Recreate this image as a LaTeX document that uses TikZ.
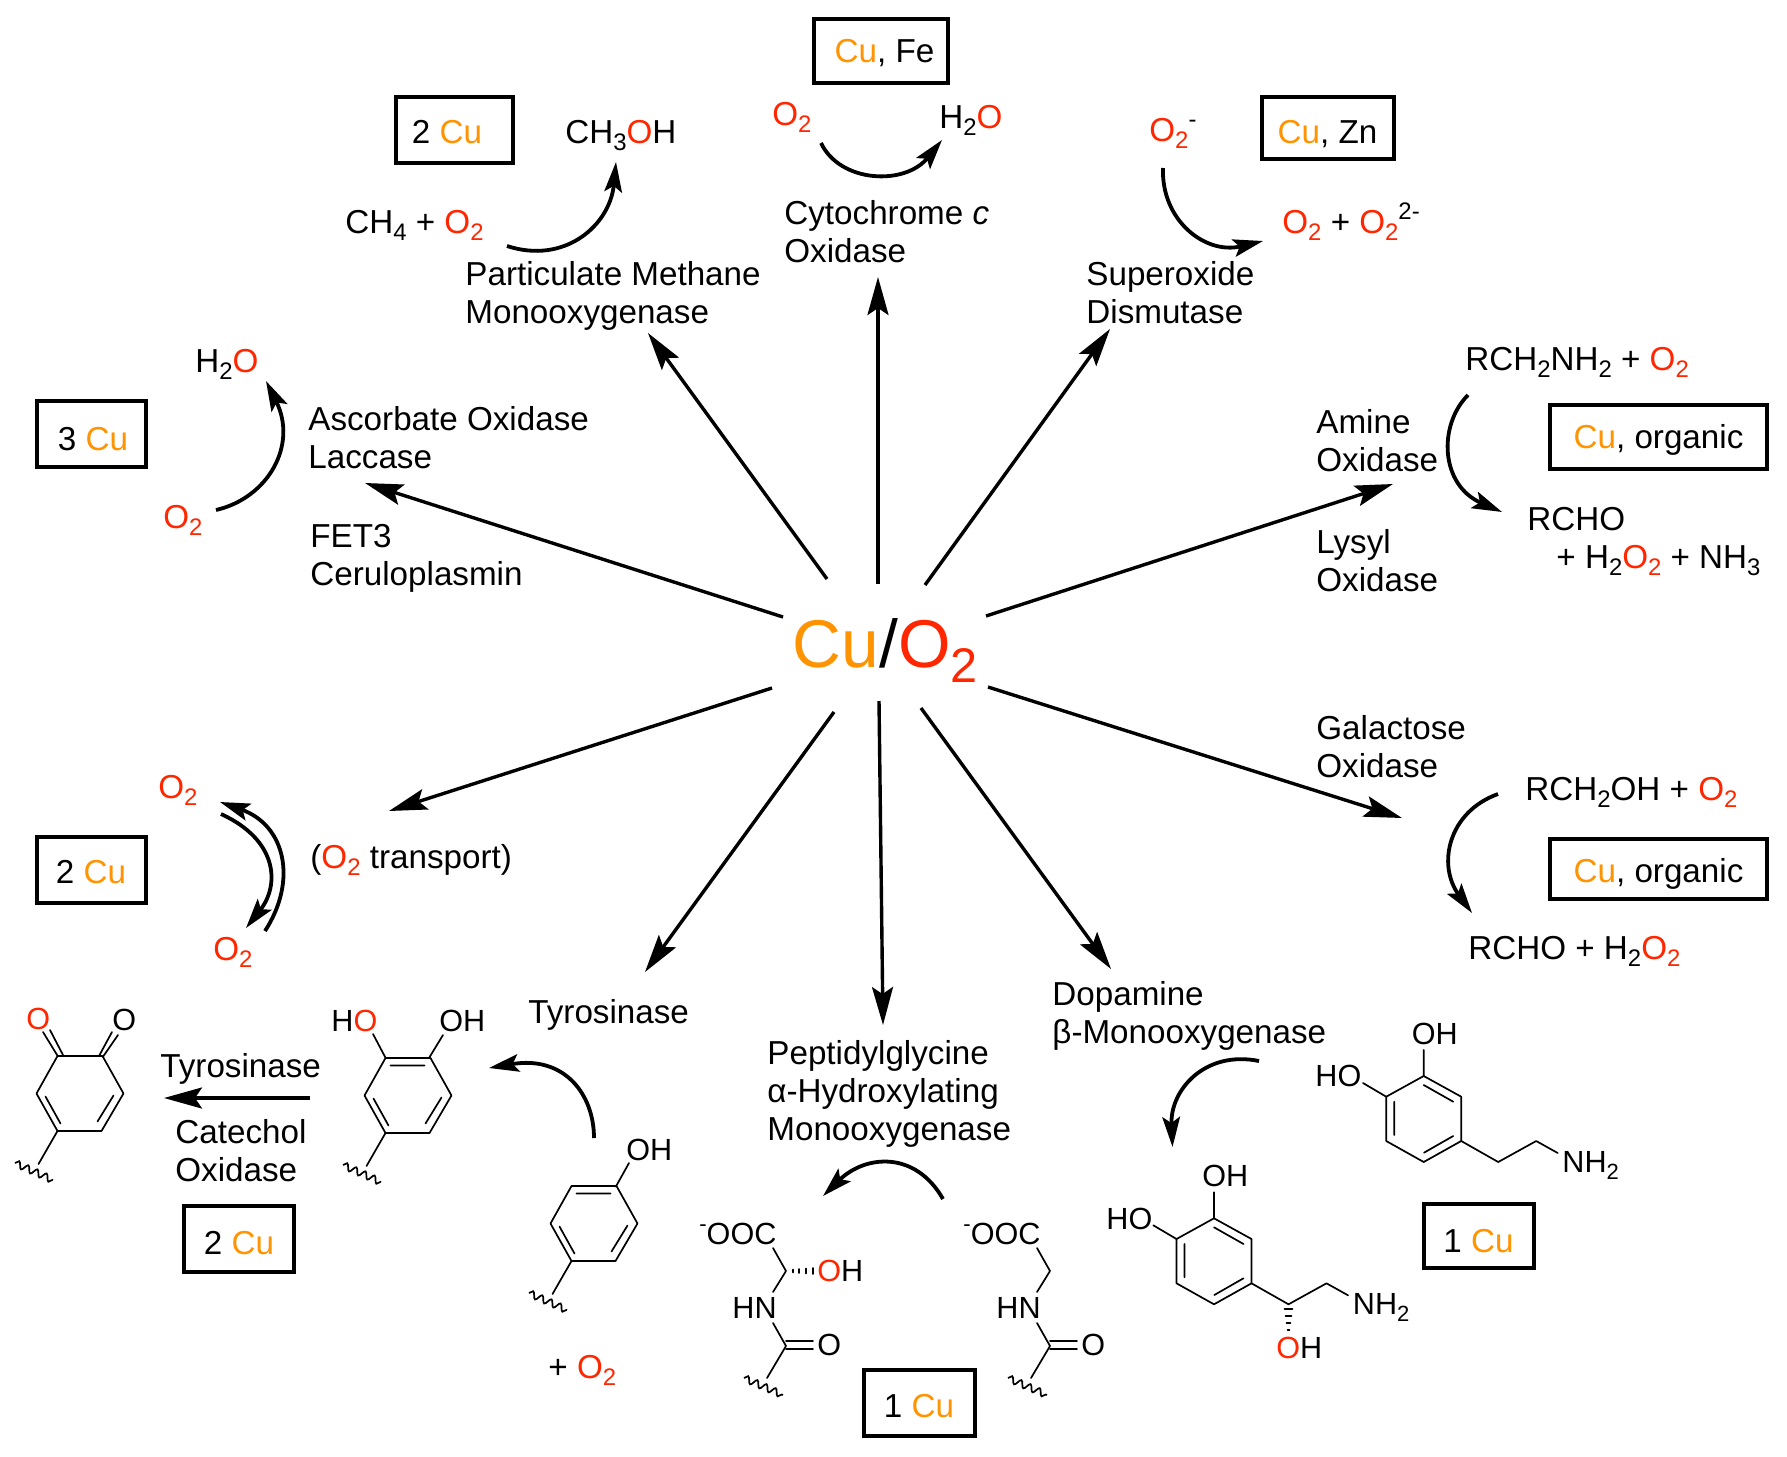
\documentclass[tikz,border=0pt]{standalone}
\usepackage{fontspec}
\setmainfont{Liberation Sans}
\usetikzlibrary{arrows.meta,decorations.pathmorphing}
\definecolor{cuor}{HTML}{FF9300}
\definecolor{oxr}{HTML}{FF2600}
\newcommand{\sbs}[1]{\raisebox{-.23em}{\scalebox{.72}{#1}}}
\newcommand{\sps}[1]{\raisebox{.42em}{\scalebox{.72}{#1}}}
\newcommand{\Cuu}{\textcolor{cuor}{Cu}}
\newcommand{\Oo}{\textcolor{oxr}{O}}
\newcommand{\Ot}{\textcolor{oxr}{O\sbs{2}}}
\tikzset{
  lbl/.style={anchor=base west,inner sep=0pt,align=left,font=\fontsize{16.6}{19}\selectfont},
  chem/.style={anchor=base west,inner sep=0pt,font=\fontsize{15.3}{18}\selectfont},
  cubox/.style={draw=black,line width=2pt,inner sep=0pt,text height=11.8pt,text depth=0pt,font=\fontsize{16.6}{19}\selectfont},
  radial/.style={line width=1.7pt,-{Stealth[length=19pt,width=10.5pt,inset=3.5pt]}},
  curved/.style={line width=1.9pt,-{Stealth[length=15pt,width=8.8pt,inset=3pt]}},
  bond/.style={line width=.85pt,line cap=round,line join=round},
  wavy/.style={line width=.85pt,decorate,decoration={snake,amplitude=1.7pt,segment length=5pt}},
  quinring/.pic={
    \draw[bond] (-22,-37.5)--(23,-37.5)--(44,0)--(22,37.5)--(-22,37.5)--(-43,0)--cycle;
    \draw[bond] (-34,3)--(-19,30) (34,2)--(18,28);
    \draw[bond] (-22,37.5)--(-41,70.5);
    \draw[wavy] (-64.5,69.5)--(-26.5,86.5);
  },
  phring/.pic={
    \draw[bond] (-22,-37.5)--(23,-37.5)--(44,0)--(22,37.5)--(-22,37.5)--(-43,0)--cycle;
    \draw[bond] (-34,3)--(-19,30) (34,2)--(18,28) (-17,-30)--(17,-30);
    \draw[bond] (-22,37.5)--(-41,70.5);
    \draw[wavy] (-64.5,69.5)--(-26.5,86.5);
  },
  catechol/.pic={
    \draw[bond] (0,-43)--(37.5,-22.3)--(37.5,22)--(0,43)--(-37.5,22)--(-37.5,-22.3)--cycle;
    \draw[bond] (0,-34)--(29.5,-17.3) (-29.5,-17.3)--(-29.5,16) (.3,33.7)--(29.5,17);
    \draw[bond] (37.5,22)--(74.5,43)--(112.5,22)--(134,34);
    \draw[bond] (0,-43)--(0,-69) (-37.5,-22.3)--(-60.7,-36);
  },
  peptide/.pic={
    \draw[bond] (-13,-23)--(0,0)--(-13,21);
    \draw[bond] (-13,52)--(0,75)--(-19,107);
    \draw[bond] (0,69.7)--(27,69.7) (0,78)--(27,78);
    \draw[wavy] (-42,107)--(-3,124);
  },
}
\begin{document}
\begin{tikzpicture}[x=.5pt,y=-.5pt]
\useasboundingbox (0,0) rectangle (1787,1456);

% centre
\node[anchor=base west,inner sep=0pt,font=\fontsize{33.8}{38}\selectfont] (centre) at (792.5,667) {\Cuu/\Ot};

% radial arrows
\coordinate (s1) at (783,617);  \coordinate (e1) at (365,483);
\coordinate (s2) at (827,579);  \coordinate (e2) at (648,333);
\coordinate (s3) at (878,584);  \coordinate (e3) at (878,277);
\coordinate (s4) at (925,585);  \coordinate (e4) at (1110,329);
\coordinate (s5) at (986,616);  \coordinate (e5) at (1393,484);
\coordinate (s6) at (988,687);  \coordinate (e6) at (1402,818);
\coordinate (s7) at (921,708);  \coordinate (e7) at (1111,969);
\coordinate (s8) at (879,701);  \coordinate (e8) at (883,1025);
\coordinate (s9) at (834,712);  \coordinate (e9) at (645,972);
\coordinate (s10) at (772,688); \coordinate (e10) at (389,811);
\foreach \i in {1,...,10} {\draw[radial] (s\i)--(e\i);}

% boxes
\node[cubox,minimum width=67pt,minimum height=32pt] (bfe) at (880.5,51) {\hspace{4pt}\Cuu, Fe};
\node[cubox,minimum width=58.5pt,minimum height=33pt,text height=13pt] (bpm) at (454,130) {\hspace{-7pt}2 \Cuu};
\node[cubox,minimum width=66pt,minimum height=31pt,text height=15pt] (bzn) at (1327.5,128) {\Cuu, Zn};
\node[cubox,minimum width=108.5pt,minimum height=32pt] (bam) at (1658.5,436.5) {\Cuu, organic};
\node[cubox,minimum width=108.5pt,minimum height=30pt,text height=14pt] (bga) at (1658.5,868.5) {\Cuu, organic};
\node[cubox,minimum width=54.5pt,minimum height=33pt,text height=16.3pt] (bas) at (91,434) {\hspace{2pt}3 \Cuu};
\node[cubox,minimum width=54.5pt,minimum height=33pt,text height=14pt] (btr) at (91,869.5) {2 \Cuu};
\node[cubox,minimum width=55pt,minimum height=33pt,text height=15pt] (bty) at (239,1239) {2 \Cuu};
\node[cubox,minimum width=55.5pt,minimum height=33pt,text height=14pt] (bph) at (919,1403) {1 \Cuu};
\node[cubox,minimum width=55pt,minimum height=32pt,text height=16pt] (bdo) at (1478.5,1236) {1 \Cuu};

% top centre
\node[lbl] (ox1) at (772,125) {\Ot};
\node[lbl] (wa1) at (939,128) {H\sbs{2}\Oo};
\coordinate (a1s) at (821,143); \coordinate (a1e) at (942,140);
\draw[curved] (a1s) .. controls (840,183) and (905,186) .. (a1e);
\node[lbl] (cyt) at (784,262) {Cytochrome \textit{c}\\Oxidase};

% top left
\node[lbl] (meoh) at (565,143) {CH\sbs{3}\Oo H};
\node[lbl] (meth) at (345,233) {CH\sbs{4} + \Ot};
\coordinate (a2s) at (507,246); \coordinate (a2e) at (616,162);
\draw[curved] (a2s) .. controls (565,265) and (610,225) .. (a2e);
\node[lbl] (pmo) at (465,323) {Particulate Methane\\Monooxygenase};

% top right
\node[lbl] (sup) at (1149,141) {\Ot\sps{-}};
\node[lbl] (prs) at (1282,233) {\Ot{} + \Ot\sps{2-}};
\coordinate (a3s) at (1163,168); \coordinate (a3e) at (1263,241);
\draw[curved] (a3s) .. controls (1161,220) and (1205,255) .. (a3e);
\node[lbl] (sod) at (1086,323) {Superoxide\\Dismutase};

% right upper
\node[lbl] (rna) at (1465,370) {RCH\sbs{2}NH\sbs{2} + \Ot};
\node[lbl] (amo) at (1316,471) {Amine\\Oxidase};
\node[lbl] (lyo) at (1316,591) {Lysyl\\Oxidase};
\node[lbl] (rch1) at (1527,530) {RCHO};
\node[lbl] (rch2) at (1556,568) {+ H\sbs{2}\Ot{} + NH\sbs{3}};
\coordinate (a4s) at (1468,395); \coordinate (a4e) at (1502,512);
\draw[curved] (a4s) .. controls (1438,425) and (1440,485) .. (a4e);

% right lower
\node[lbl] (gao) at (1316,777) {Galactose\\Oxidase};
\node[lbl] (rcoh) at (1525,800) {RCH\sbs{2}OH + \Ot};
\node[lbl] (rcho) at (1468,959) {RCHO + H\sbs{2}\Ot};
\coordinate (a5s) at (1498,794); \coordinate (a5e) at (1472,913);
\draw[curved] (a5s) .. controls (1448,812) and (1437,865) .. (a5e);

% left upper
\node[lbl] (aso) at (308,468) {Ascorbate Oxidase\\Laccase};
\node[lbl] (fet) at (310,585) {FET3\\Ceruloplasmin};
\node[lbl] (wa2) at (195,372) {H\sbs{2}\Oo};
\node[lbl] (ox2) at (163,528) {\Ot};
\coordinate (a6s) at (216,510); \coordinate (a6e) at (266,381);
\draw[curved] (a6s) .. controls (268,498) and (298,445) .. (a6e);

% transport
\node[lbl] (ox3) at (158,798) {\Ot};
\node[lbl] (ox4) at (213,960) {\Ot};
\node[lbl] (tra) at (310,868) {(\Ot{} transport)};
\coordinate (a7s) at (265,931); \coordinate (a7e) at (220,802);
\coordinate (a8s) at (221,814); \coordinate (a8e) at (246,928);
\draw[curved] (a7s) .. controls (298,880) and (285,825) .. (a7e);
\draw[curved] (a8s) .. controls (278,840) and (280,885) .. (a8e);

% quinone, catechol, phenol
\pic at (79.5,1093.5) {quinring};
\draw[bond] (57.7,1056)--(43,1032) (63,1055)--(50,1030);
\draw[bond] (103,1056.7)--(118,1035) (99,1056)--(112,1032);
\node[chem] (qo1) at (26,1029) {\Oo};
\node[chem] (qo2) at (112,1030) {O};
\pic at (407.5,1095.5) {phring};
\draw[bond] (373,1034)--(385.5,1057.7) (443,1035)--(429,1058);
\node[chem] (ho1) at (331,1031) {H\Oo};
\node[chem] (oh1) at (439,1031) {OH};
\pic at (593.5,1223.5) {phring};
\draw[bond] (629,1163)--(615.8,1186.7);
\node[chem] (oh2) at (626,1160) {OH};
\node[lbl] (plo) at (548,1378) {+ \Ot};

\node[lbl] (tyr1) at (528,1023) {Tyrosinase};
\node[lbl] (tyr2) at (160,1077) {Tyrosinase};
\node[lbl] (cat) at (175,1181) {Catechol\\Oxidase};
\coordinate (a9s) at (310,1098); \coordinate (a9e) at (164,1098);
\draw[radial] (a9s)--(a9e);
\coordinate (a10s) at (594,1138); \coordinate (a10e) at (489,1068);
\draw[curved] (a10s) .. controls (594,1095) and (565,1055) .. (a10e);

% PHM
\node[lbl] (phm) at (767,1140) {Peptidylglycine\\α-Hydroxylating\\Monooxygenase};
\coordinate (a11s) at (943,1199); \coordinate (a11e) at (823,1196);
\draw[curved] (a11s) .. controls (915,1150) and (865,1155) .. (a11e);
\pic at (786,1271) {peptide};
\draw[bond] (793,1269.5)--(793,1272.5) (799,1269)--(799,1273) (806,1268.5)--(806,1273.5) (813,1268)--(813,1274);
\node[chem] (ooc1) at (699,1244) {\sps{-}OOC};
\node[chem] (oh3) at (817,1281) {\Oo H};
\node[chem] (hn1) at (732,1318) {HN};
\node[chem] (o1) at (817,1355) {O};
\pic at (1050,1271) {peptide};
\node[chem] (ooc2) at (963,1244) {\sps{-}OOC};
\node[chem] (hn2) at (996,1318) {HN};
\node[chem] (o2) at (1081,1355) {O};

% dopamine
\node[lbl] (dbm) at (1052,1043) {Dopamine\\β-Monooxygenase};
\coordinate (a12s) at (1259,1061); \coordinate (a12e) at (1172.5,1147);
\draw[curved] (a12s) .. controls (1205,1050) and (1170,1090) .. (a12e);
\pic at (1423.7,1119) {catechol};
\node[chem] (oh4) at (1411.5,1044) {OH};
\node[chem] (ho4) at (1315,1086) {HO};
\node[chem] (nh1) at (1562,1172) {NH\sbs{2}};
\pic at (1214,1261.3) {catechol};
\draw[bond] (1284.5,1309)--(1292.5,1309) (1285.5,1316)--(1291.5,1316) (1286.5,1323)--(1290.5,1323) (1287.5,1330)--(1289.5,1330);
\node[chem] (oh5) at (1202,1186) {OH};
\node[chem] (ho5) at (1106,1229) {HO};
\node[chem] (nh2) at (1352.5,1314) {NH\sbs{2}};
\node[chem] (oh6) at (1276,1358) {\Oo H};
\end{tikzpicture}
\end{document}
